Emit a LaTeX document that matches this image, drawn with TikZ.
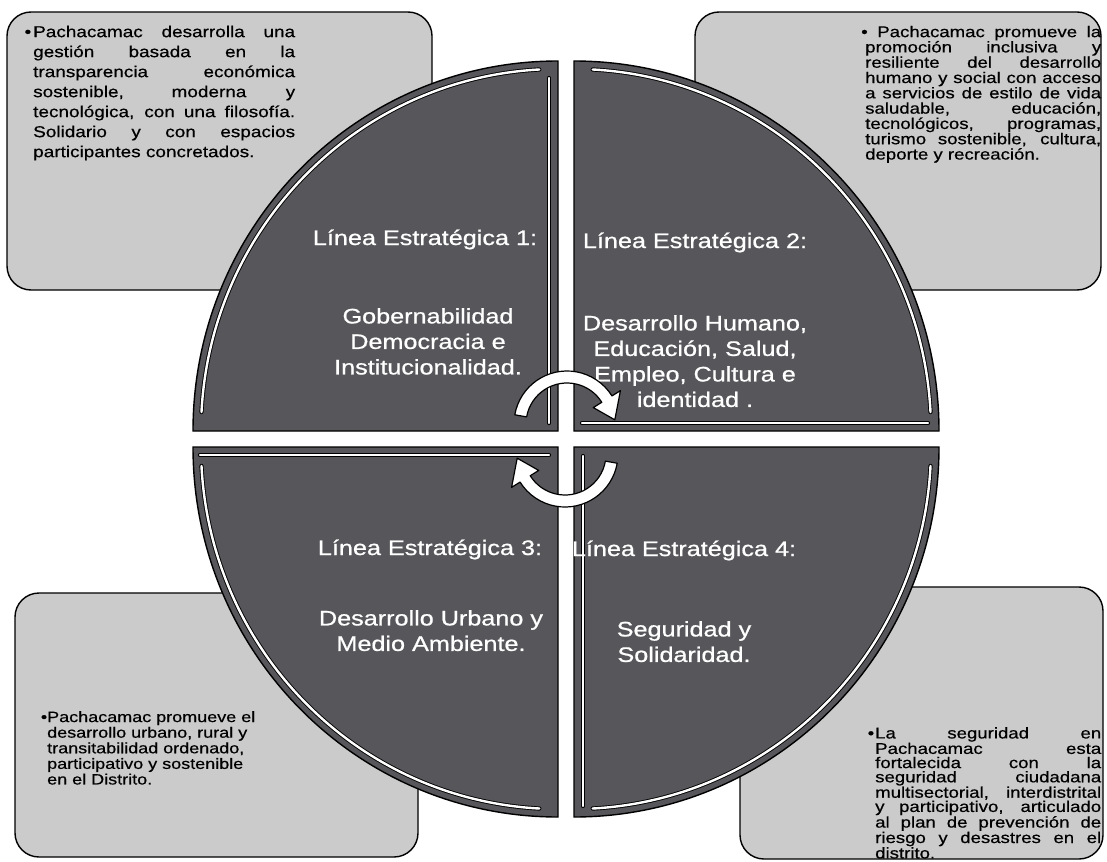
\documentclass[tikz,border=0pt]{standalone}
\usepackage{fontspec}
\setmainfont{Liberation Sans}
\newfontfamily\wide{Liberation Sans}[FakeStretch=1.2, FakeBold=0.5]
\newfontfamily\wideq{Liberation Sans}[FakeStretch=1.2, FakeBold=0.8]
\hbadness=10000 \vbadness=10000 \hfuzz=30pt
\definecolor{quadgray}{RGB}{86,86,91}
\definecolor{boxgray}{RGB}{203,203,203}
\newcommand\qfont{\wideq\fontsize{21}{25.5}\selectfont}
\tikzset{
  infobox/.style={draw=black, line width=1.4pt, fill=boxgray, rounded corners=24pt, inner sep=0pt},
  boxtext/.style={inner sep=0pt, anchor=north west, align=justify, text=black},
  quad/.style={fill=quadgray, draw=black, line width=1.4pt},
  hl/.style={draw=black, double=white, double distance=2.4pt, line width=0.9pt, line cap=round},
  qtxt/.style={text=white, font=\qfont, align=center, inner sep=0pt},
  arrowshape/.style={fill=white, draw=black, line width=1.2pt, line join=round},
}
\begin{document}
\begin{tikzpicture}[x=1pt,y=-1pt]
\useasboundingbox (0,0) rectangle (1107,861);
\fill[white] (0,0) rectangle (1107,861);

% corner boxes
\node[infobox, minimum width=425, minimum height=278] (b1) at (219.5,151) {};
\node[infobox, minimum width=406, minimum height=278] (b2) at (898,151) {};
\node[infobox, minimum width=403, minimum height=264] (b3) at (216.5,725) {};
\node[infobox, minimum width=363, minimum height=272] (b4) at (921.5,723) {};

% box texts
\node[boxtext, text width=262, font={\wide\fontsize{15.8}{20}\selectfont}] (t1) at (33,25.5)
{\noindent\llap{•\hspace{2pt}}Pachacamac desarrolla una\linebreak
gestión basada en la\linebreak
transparencia económica\linebreak
sostenible, moderna y\linebreak
tecnológica, con una filosofía.\linebreak
Solidario y con espacios\linebreak
participantes concretados.};

\node[boxtext, text width=236, font={\wide\fontsize{15.5}{15.3}\selectfont}] (t2) at (865,25.7)
{\noindent\hspace*{-4pt}• Pachacamac promueve la\linebreak
promoción inclusiva y\linebreak
resiliente del desarrollo\linebreak
humano y social con acceso\linebreak
a servicios de estilo de vida\linebreak
saludable, educación,\linebreak
tecnológicos, programas,\linebreak
turismo sostenible, cultura,\linebreak
deporte y recreación.};

\node[boxtext, align=left, text width=215, font={\wide\fontsize{15}{15.6}\selectfont}] (t3) at (47,711)
{\llap{•}Pachacamac promueve el\\
desarrollo urbano, rural y\\
transitabilidad ordenado,\\
participativo y sostenible\\
en el Distrito.};

\node[boxtext, text width=226, font={\wide\fontsize{15.5}{14.2}\selectfont}] (t4) at (875,727)
{\noindent\llap{•\hspace{1pt}}La seguridad en\linebreak
Pachacamac esta\linebreak
fortalecida con la\linebreak
seguridad ciudadana\linebreak
multisectorial, interdistrital\linebreak
y participativo, articulado\linebreak
al plan de prevención de\linebreak
riesgo y desastres en el\linebreak
distrito.};

% quadrants
\draw[quad] (558,431) -- (193,431) arc[start angle=180, end angle=270, x radius=365, y radius=370] -- cycle;
\draw[quad] (574,431) -- (574,61) arc[start angle=270, end angle=360, x radius=365, y radius=370] -- cycle;
\draw[quad] (574,447) -- (939,447) arc[start angle=0, end angle=90, x radius=365, y radius=370] -- cycle;
\draw[quad] (558,447) -- (558,817) arc[start angle=90, end angle=180, x radius=365, y radius=370] -- cycle;

% highlights
\draw[hl] ([shift={(558,431)}]183:357 and 362) arc[start angle=183, end angle=267, x radius=357, y radius=362];
\draw[hl] (549,78) -- (549,423);
\draw[hl] ([shift={(574,431)}]273:357 and 362) arc[start angle=273, end angle=357, x radius=357, y radius=362];
\draw[hl] (582,423) -- (928,423);
\draw[hl] ([shift={(574,447)}]3:357 and 362) arc[start angle=3, end angle=87, x radius=357, y radius=362];
\draw[hl] (583,456) -- (583,806);
\draw[hl] ([shift={(558,447)}]93:357 and 362) arc[start angle=93, end angle=177, x radius=357, y radius=362];
\draw[hl] (200,455) -- (549,455);

% quadrant texts
\node[qtxt, anchor=base] (q1t) at (425,245) {Línea Estratégica 1:};
\node[qtxt, anchor=north] (q1b) at (428,308) {Gobernabilidad\\Democracia e\\Institucionalidad.};
\node[qtxt, anchor=base] (q2t) at (695,248) {Línea Estratégica 2:};
\node[qtxt, anchor=north] (q2b) at (695,315) {Desarrollo Humano,\\Educación, Salud,\\Empleo, Cultura e\\identidad .};
\node[qtxt, anchor=base] (q3t) at (430,555) {Línea Estratégica 3:};
\node[qtxt, anchor=north] (q3b) at (431,610) {Desarrollo Urbano y\\Medio Ambiente.};
\node[qtxt, anchor=base] (q4t) at (684,556) {Línea Estratégica 4:};
\node[qtxt, anchor=north] (q4b) at (684,621) {Seguridad y\\Solidaridad.};

% circular arrows
\begin{scope}[shift={(567,424)}]
\draw[arrowshape] (190:53) arc[start angle=190, end angle=328, radius=53] -- (328:63) -- (355:48) -- (328:31) -- (328:41) arc[start angle=328, end angle=190, radius=41] -- cycle;
\end{scope}
\begin{scope}[shift={(565,454)}]
\draw[arrowshape] (10:53) arc[start angle=10, end angle=148, radius=53] -- (148:63) -- (175:48) -- (148:31) -- (148:41) arc[start angle=148, end angle=10, radius=41] -- cycle;
\end{scope}
\end{tikzpicture}
\end{document}
